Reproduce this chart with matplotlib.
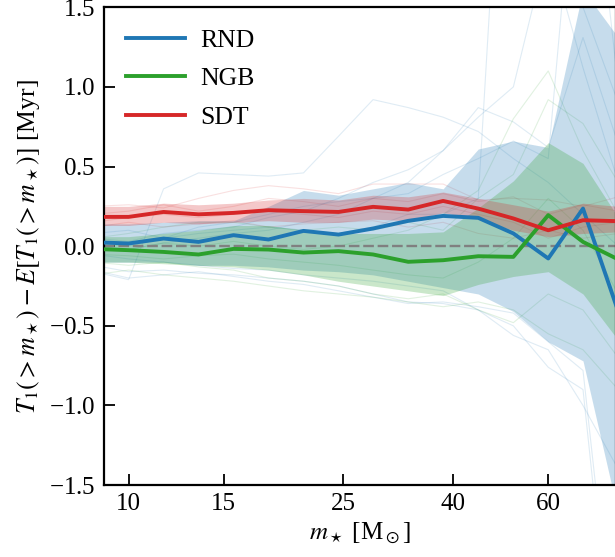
import matplotlib
matplotlib.use("Agg")
import matplotlib.pyplot as plt
import numpy as np

plt.rcParams["font.family"] = "serif"
plt.rcParams["font.serif"] = ["Liberation Serif", "DejaVu Serif"]
plt.rcParams["mathtext.fontset"] = "stix"
plt.rcParams["axes.formatter.use_mathtext"] = True

# stellar mass bins [Msun]
mass = [8.61, 10.0, 11.61, 13.48, 15.65, 18.17, 21.1, 24.5,
        28.4, 33.0, 38.3, 44.5, 51.7, 60.0, 69.6, 80.9]

# mean curves and bands
rnd_mean = [0.025, 0.017, 0.048, 0.027, 0.069, 0.042, 0.096, 0.073,
            0.111, 0.159, 0.19, 0.178, 0.08, -0.077, 0.236, -0.41]
rnd_lo = [-0.10, -0.10, -0.10, -0.12, -0.12, -0.13, -0.15, -0.16,
          -0.18, -0.22, -0.26, -0.30, -0.41, -0.60, -0.72, -1.68]
rnd_hi = [0.14, 0.14, 0.15, 0.16, 0.16, 0.25, 0.35, 0.32,
          0.36, 0.40, 0.36, 0.61, 0.66, 0.62, 1.61, 1.31]

ngb_mean = [-0.017, -0.025, -0.036, -0.052, -0.017, -0.021, -0.04, -0.031,
            -0.052, -0.098, -0.088, -0.063, -0.067, 0.195, 0.027, -0.083]
ngb_lo = [-0.10, -0.10, -0.11, -0.12, -0.13, -0.15, -0.18, -0.22,
          -0.25, -0.28, -0.31, -0.24, -0.19, -0.16, -0.30, -0.59]
ngb_hi = [0.06, 0.06, 0.08, 0.10, 0.13, 0.13, 0.10, 0.08,
          0.08, 0.08, 0.09, 0.24, 0.41, 0.65, 0.52, 0.18]

sdt_mean = [0.184, 0.184, 0.215, 0.20, 0.209, 0.226, 0.22, 0.215,
            0.247, 0.23, 0.284, 0.236, 0.174, 0.10, 0.163, 0.157]
sdt_lo = [0.13, 0.13, 0.15, 0.14, 0.15, 0.16, 0.15, 0.15,
          0.17, 0.16, 0.21, 0.17, 0.10, 0.06, 0.08, 0.09]
sdt_hi = [0.25, 0.25, 0.27, 0.26, 0.27, 0.29, 0.30, 0.29,
          0.32, 0.31, 0.34, 0.30, 0.26, 0.22, 0.27, 0.25]

# individual realisations (faint lines)
rnd_runs = [
    [-0.16, -0.21, 0.36, 0.46, 0.45, 0.44, 0.46, 0.69, 0.92, 0.87, 0.81, 0.72, 0.55, 0.40, 0.20, 0.0],
    [0.05, 0.03, 0.08, 0.10, 0.12, 0.18, 0.22, 0.30, 0.40, 0.48, 0.60, 0.87, 0.78, 0.62, 1.31, 0.64],
    [0.00, -0.02, 0.02, 0.05, 0.08, 0.10, 0.15, 0.20, 0.30, 0.40, 0.60, 0.81, 1.0, 1.9, 1.12, 0.40],
    [-0.12, -0.16, -0.15, -0.17, -0.18, -0.20, -0.22, -0.25, -0.30, -0.35, -0.36, -0.40, -0.50, -0.76, -0.90, -3.0],
    [-0.15, -0.20, -0.18, -0.16, -0.19, -0.22, -0.24, -0.28, -0.32, -0.36, -0.35, -0.38, -0.42, -0.60, -0.78, -2.8],
    [-0.05, -0.08, -0.10, -0.12, -0.14, -0.15, -0.18, -0.20, -0.22, -0.25, -0.28, -0.40, -0.56, -0.65, -1.0, -1.4],
    [0.08, 0.10, 0.05, 0.12, 0.15, 0.20, 0.25, 0.28, 0.30, 0.33, 0.45, 0.55, 0.66, 0.55, 3.0, 1.0],
    [0.02, 0.0, 0.05, 0.08, 0.10, 0.12, 0.10, 0.08, 0.12, 0.20, 0.20, 0.30, 4.0, 2.0, 1.5, 0.9],
]
ngb_runs = [
    [0.05, 0.08, 0.12, 0.15, 0.15, 0.12, 0.10, 0.12, 0.10, 0.15, 0.10, 0.30, 0.45, 0.92, 0.77, 0.40],
    [-0.10, -0.12, -0.10, -0.13, -0.15, -0.20, -0.22, -0.25, -0.30, -0.33, -0.30, -0.40, -0.48, -0.30, -0.40, -0.70],
    [-0.18, -0.15, -0.18, -0.20, -0.22, -0.25, -0.28, -0.30, -0.32, -0.35, -0.38, -0.35, -0.40, -0.55, -0.65, -0.90],
    [0.0, -0.02, 0.02, 0.0, 0.03, 0.0, -0.02, 0.0, 0.05, 0.10, 0.20, 0.35, 0.80, 1.10, 0.60, 0.20],
    [-0.05, -0.06, -0.08, -0.06, -0.05, -0.08, -0.10, -0.12, -0.15, -0.18, -0.20, -0.10, 0.05, 0.30, 0.10, -0.30],
]
sdt_runs = [
    [0.25, 0.26, 0.24, 0.30, 0.35, 0.38, 0.36, 0.33, 0.39, 0.39, 0.39, 0.29, 0.30, 0.29, 0.25, 0.31],
    [0.12, 0.15, 0.12, 0.14, 0.16, 0.12, 0.14, 0.15, 0.16, 0.12, 0.15, 0.08, 0.05, 0.10, 0.05, 0.08],
    [0.20, 0.22, 0.26, 0.22, 0.25, 0.30, 0.28, 0.25, 0.30, 0.28, 0.33, 0.28, 0.31, 0.20, 0.26, 0.22],
    [0.15, 0.18, 0.20, 0.18, 0.20, 0.22, 0.20, 0.18, 0.22, 0.20, 0.25, 0.20, 0.15, 0.05, 0.12, 0.15],
]

xticks = [10, 15, 25, 40, 60]

fig = plt.figure(figsize=(6.15, 5.57), dpi=100)
ax = fig.add_axes([0.169, 0.129, 0.832, 0.858])

models = [
    ("RND", "#1f77b4", rnd_mean, rnd_lo, rnd_hi, rnd_runs),
    ("NGB", "#2ca02c", ngb_mean, ngb_lo, ngb_hi, ngb_runs),
    ("SDT", "#d62728", sdt_mean, sdt_lo, sdt_hi, sdt_runs),
]

for name, c, mean, lo, hi, runs in models:
    for r in runs:
        ax.plot(mass, r, color=c, lw=0.8, alpha=0.14, zorder=1)
    ax.fill_between(mass, lo, hi, color=c, alpha=0.25, lw=0, zorder=1.5)

ax.axhline(0, color="gray", lw=1.7, ls=(0, (4.5, 1.6)), zorder=2.5)

for name, c, mean, lo, hi, runs in models:
    ax.plot(mass, mean, color=c, lw=2.8, label=name, zorder=3)

ax.set_xscale("log")
ax.set_xlim(9, 80)
ax.set_ylim(-1.5, 1.5)
ax.set_xticks(xticks)
ax.set_xticklabels([str(t) for t in xticks])
ax.xaxis.set_minor_locator(matplotlib.ticker.NullLocator())
ax.set_yticks([-1.5, -1.0, -0.5, 0.0, 0.5, 1.0, 1.5])
ax.tick_params(direction="in", length=8, width=1.3, labelsize=18, pad=6)
for s in ax.spines.values():
    s.set_linewidth(1.6)

ax.set_xlabel(r"$m_\star$ [M$_\odot$]", fontsize=18, labelpad=4)
ax.set_ylabel(r"$T_1(>m_\star)-E[T_1(>m_\star)]$ [Myr]", fontsize=18.5, labelpad=5)

ax.legend(loc="upper left", frameon=False, fontsize=18.5, handlelength=2.3,
          handletextpad=0.6, labelspacing=0.6, borderaxespad=0.45)

fig.savefig("out.png", dpi=100)
